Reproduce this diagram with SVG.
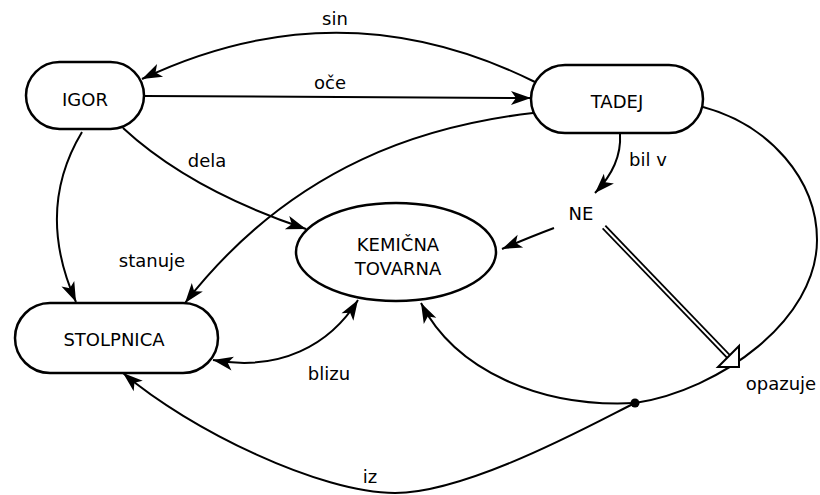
<svg xmlns="http://www.w3.org/2000/svg" width="820" height="495" viewBox="0 0 820 495">
<style>
.node{fill:#fff;stroke:#000;stroke-width:2.5}
.edge{fill:none;stroke:#000;stroke-width:2}
text{font-family:"DejaVu Sans","Liberation Sans",sans-serif;font-size:18px;fill:#000;text-anchor:middle}
</style>
<defs>
<marker id="arr" markerUnits="userSpaceOnUse" markerWidth="26" markerHeight="18" viewBox="-22 -9 24 18" refX="0" refY="0" orient="auto-start-reverse">
<path d="M0,0 L-20,-7 L-15,0 L-20,7 Z" fill="#000"/>
</marker>
</defs>
<rect width="820" height="495" fill="#fff"/>
<g id="connectors">
<path class="edge" d="M535,82 Q340,-15 142,79" marker-end="url(#arr)"/>
<path class="edge" d="M144,96 L531,98" marker-end="url(#arr)"/>
<path class="edge" d="M123,128 Q190,190 306,229" marker-end="url(#arr)"/>
<path class="edge" d="M82,132 Q35,210 76,302" marker-end="url(#arr)"/>
<path class="edge" d="M533,113 C430,125 295,162 185,303" marker-end="url(#arr)"/>
<path class="edge" d="M620,134 Q622,165 595,193" marker-end="url(#arr)"/>
<path class="edge" d="M554,228 Q530,237 502,249" marker-end="url(#arr)"/>
<path class="edge" d="M213,360 C280,372 330,345 358,300" marker-start="url(#arr)" marker-end="url(#arr)"/>
<path class="edge" d="M703,107 C770,125 817,180 817,240 C817,320 720,390 635,403"/>
<path class="edge" d="M635,403 C540,408 455,370 421,303" marker-end="url(#arr)"/>
<path class="edge" d="M635,403 C600,420 470,493 395,493 C320,493 190,430 123,373" marker-end="url(#arr)"/>
<circle cx="635" cy="403" r="4.5" fill="#000"/>
<line x1="604" y1="227" x2="729" y2="357" stroke="#000" stroke-width="5.5"/>
<line x1="602" y1="225" x2="730" y2="358" stroke="#fff" stroke-width="2"/>
<polygon points="739,367 739,346 718,367" fill="#fff" stroke="#000" stroke-width="2" stroke-linejoin="miter"/>
<text x="335" y="25">sin</text>
<text x="330" y="89">oče</text>
<text x="207" y="167">dela</text>
<text x="648" y="166">bil v</text>
<text x="152" y="267">stanuje</text>
<text x="329" y="380">blizu</text>
<text x="781" y="390">opazuje</text>
<text x="370" y="483">iz</text>
</g>
<g id="igor">
<rect class="node" x="26" y="62" width="118" height="67" rx="33.5"/>
<text x="85" y="106">IGOR</text>
</g>
<g id="tadej">
<rect class="node" x="531" y="65" width="172" height="68" rx="34"/>
<text x="617" y="108">TADEJ</text>
</g>
<g id="stolpnica">
<rect class="node" x="15" y="303" width="203" height="70" rx="35"/>
<text x="114" y="346">STOLPNICA</text>
</g>
<g id="kemicna">
<ellipse class="node" cx="396" cy="252" rx="100" ry="49"/>
<text x="398" y="251">KEMIČNA</text>
<text x="398" y="275">TOVARNA</text>
</g>
<g id="ne">
<text x="581" y="220">NE</text>
</g>
</svg>
